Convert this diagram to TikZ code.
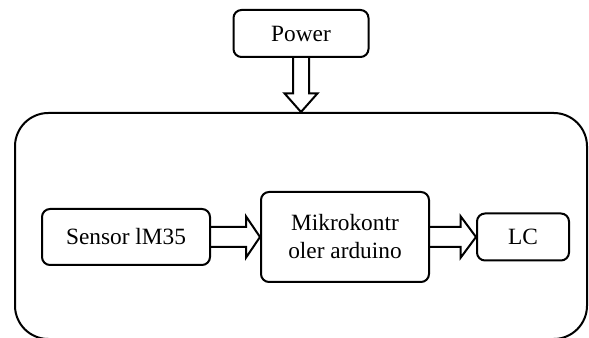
\documentclass[tikz,border=0pt]{standalone}
\usepackage{fontspec}
\setmainfont{Liberation Serif}
\usetikzlibrary{calc,positioning}

% hollow block arrow: from, to, shaft half width, head half width, head length
\newcommand\fatarrow[5]{%
  \coordinate (fa-h) at ($(#2)!#5!(#1)$);
  \draw[fat] ($(#1)!#3!90:(#2)$) -- ($(fa-h)!#3!90:(#2)$) -- ($(fa-h)!#4!90:(#2)$)
    -- (#2) -- ($(fa-h)!#4!-90:(#2)$) -- ($(fa-h)!#3!-90:(#2)$) -- ($(#1)!#3!-90:(#2)$);}

\begin{document}
\begin{tikzpicture}[%
      x=0.75pt, y=-0.75pt,       % pixel grid of the sketch
      node distance=36.75pt,
      font=\fontsize{17.5}{21}\selectfont
      ]
  \tikzset{
     blk/.style={draw, line width=1.5pt, rounded corners=6pt, align=center, inner sep=2pt},
     frame/.style={draw, line width=1.5pt, rounded corners=25pt, minimum width=429pt, minimum height=169.5pt},
     fat/.style={draw, line width=1.5pt}}
 \useasboundingbox (0,0) rectangle (589,338);

 \node [frame] (sys) at (301,226) {};
 \node [blk, minimum width=126pt, minimum height=67.5pt] (mcu) at (345,237) {Mikrokontr\\oler arduino};
 \node [blk, minimum width=126pt, minimum height=42pt, left=of mcu] (sensor) {Sensor lM35};
 \node [blk, minimum width=69pt, minimum height=35.25pt, right=34.5pt of mcu] (lcd) {LC};
 \node [blk, minimum width=101.25pt, minimum height=35.25pt, above=40.5pt of sys] (power) {Power};

 \coordinate (pin) at (power.south |- sys.north);

 \fatarrow{power.south}{pin}{6pt}{12.4pt}{14pt}
 \fatarrow{sensor.east}{mcu.west}{7.5pt}{15.5pt}{10.5pt}
 \fatarrow{mcu.east}{lcd.west}{7.5pt}{15.5pt}{11.5pt}
\end{tikzpicture}
\end{document}
